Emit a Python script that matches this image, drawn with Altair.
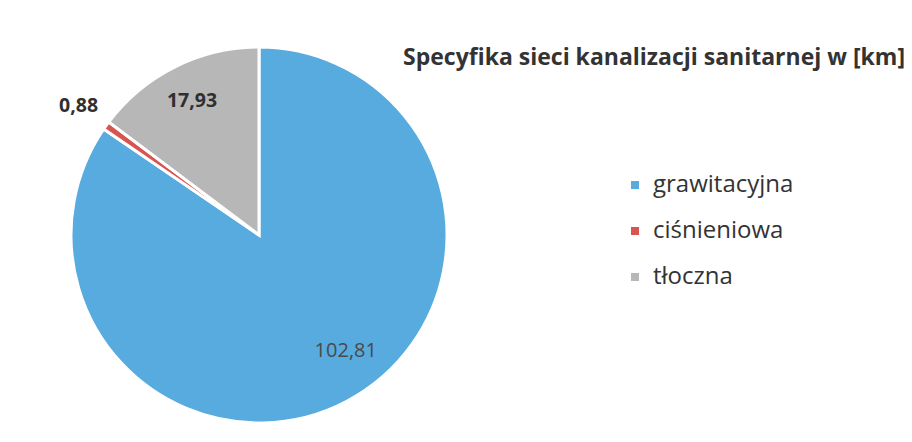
import altair as alt
import pandas as pd

categories = ["grawitacyjna", "ciśnieniowa", "tłoczna"]
values = [102.81, 0.88, 17.93]
labels = ["102,81", "0,88", "17,93"]
colors = ["#57abdf", "#d9534f", "#b7b7b7"]
title_text = "Specyfika sieci kanalizacji sanitarnej w [km]"

df = pd.DataFrame({"cat": categories, "val": values, "lab": labels,
                   "order": list(range(len(categories)))})

FONT = "Open Sans"
CX, CY, R = 251, 227, 188

color = alt.Color(
    "cat:N",
    scale=alt.Scale(domain=categories, range=colors),
    sort=categories,
    legend=alt.Legend(
        title=None, orient="none", legendX=615, legendY=165,
        symbolType="square", symbolSize=64, symbolStrokeWidth=0,
        labelFont=FONT, labelFontSize=24, labelColor="#333333",
        rowPadding=22, labelOffset=6,
    ),
)

pie = alt.Chart(df).mark_arc(radius=R, stroke="white", strokeWidth=3).encode(
    theta=alt.Theta("val:Q", stack=True),
    order=alt.Order("order:Q"),
    color=color, x=alt.value(CX), y=alt.value(CY),
)

label_r = {"grawitacyjna": 143, "ciśnieniowa": 222, "tłoczna": 150}
r_expr = " : ".join(
    [f"datum.cat == '{k}' ? {v}" for k, v in label_r.items()]
) + " : 0"

is_main = "datum.cat == 'grawitacyjna'"

lab_base = alt.Chart(df).transform_window(
    cum="sum(val)", sort=[alt.SortField("order", order="ascending")],
    frame=[None, 0]
).transform_calculate(
    mid="datum.cum - datum.val / 2", lr=r_expr
)

texts_normal = lab_base.transform_filter(is_main).mark_text(
    font=FONT, fontSize=20, fontWeight="normal", color="#4a4a4a", dx=20, dy=-10
).encode(
    text="lab:N",
    theta=alt.Theta("mid:Q", stack=False),
    x=alt.value(CX), y=alt.value(CY),
    radius=alt.Radius("lr:Q", scale=None),
)

texts_bold = lab_base.transform_filter("!(" + is_main + ")").mark_text(
    font=FONT, fontSize=19.5, fontWeight="bold", color="#2f2f2f"
).encode(
    text="lab:N",
    theta=alt.Theta("mid:Q", stack=False),
    x=alt.value(CX), y=alt.value(CY),
    radius=alt.Radius("lr:Q", scale=None),
)

title = alt.Chart(pd.DataFrame({"t": [title_text]})).mark_text(
    font=FONT, fontSize=23, fontWeight="bold", color="#333333",
    align="right", baseline="middle"
).encode(text="t:N", x=alt.value(897), y=alt.value(50))

chart = alt.layer(pie, texts_normal, texts_bold, title).properties(
    width=896, height=426, autosize=alt.AutoSizeParams(type="none"), padding=0
).configure_view(stroke=None)

chart.save("out.html", embed_options={"renderer": "svg", "actions": False})
